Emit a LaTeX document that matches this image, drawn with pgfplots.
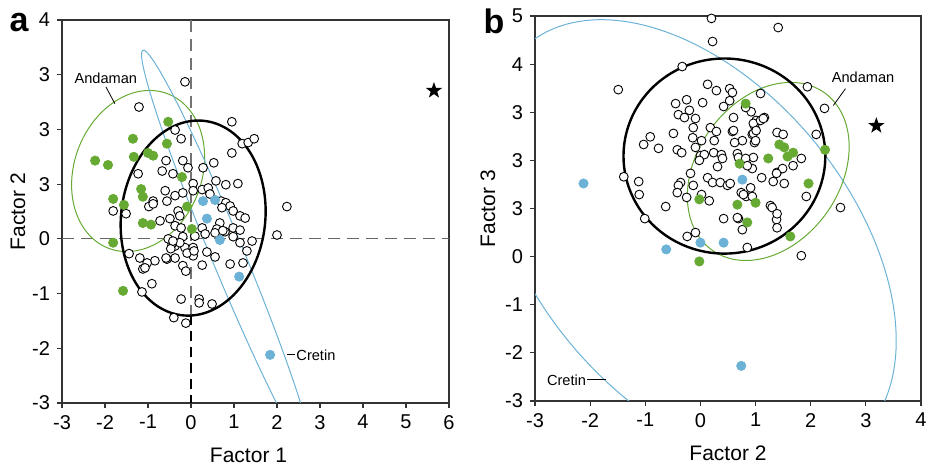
\documentclass[border=0pt]{standalone}
\usepackage{pgfplots}
\pgfplotsset{compat=1.18}
\usepackage{fontspec}
\setmainfont{Liberation Sans}
\definecolor{agreen}{RGB}{102,170,52}
\definecolor{ablue}{RGB}{108,178,214}
\pgfdeclareplotmark{fstar}{%
  \pgfpathmoveto{\pgfpointpolar{90}{\pgfplotmarksize}}%
  \pgfpathlineto{\pgfpointpolar{126}{0.4\pgfplotmarksize}}%
  \pgfpathlineto{\pgfpointpolar{162}{\pgfplotmarksize}}%
  \pgfpathlineto{\pgfpointpolar{198}{0.4\pgfplotmarksize}}%
  \pgfpathlineto{\pgfpointpolar{234}{\pgfplotmarksize}}%
  \pgfpathlineto{\pgfpointpolar{270}{0.4\pgfplotmarksize}}%
  \pgfpathlineto{\pgfpointpolar{306}{\pgfplotmarksize}}%
  \pgfpathlineto{\pgfpointpolar{342}{0.4\pgfplotmarksize}}%
  \pgfpathlineto{\pgfpointpolar{18}{\pgfplotmarksize}}%
  \pgfpathlineto{\pgfpointpolar{54}{0.4\pgfplotmarksize}}%
  \pgfpathclose\pgfusepathqfill}
\pgfplotsset{
  panel/.style={
    scale only axis, anchor=south west, clip=true,
    axis line style={black!80, line width=0.6pt},
    tick style={black!80, line width=0.6pt},
    tick align=outside, major tick length=2.5pt, tick pos=left,
    ticklabel style={font=\fontsize{10}{12}\selectfont},
    label style={font=\fontsize{10.5}{12}\selectfont},
    xlabel shift=2.5pt,
  },
  opn/.style={only marks, mark=*, mark size=2.2pt, mark options={fill=white, draw=black, line width=0.45pt}},
  grn/.style={only marks, mark=*, mark size=2.3pt, mark options={fill=agreen, draw=agreen}},
  blu/.style={only marks, mark=*, mark size=2.3pt, mark options={fill=ablue, draw=ablue}},
  ell/.style={domain=0:360, samples=181},
}
\begin{document}
\begin{tikzpicture}
\path[use as bounding box] (0pt,0pt) rectangle (463pt,233pt);
% ---------------- panel a ----------------
\begin{axis}[panel, at={(31pt,31.5pt)}, width=193.5pt, height=191.5pt,
  xmin=-3, xmax=6, ymin=-3, ymax=4,
  xtick={-3,-2,-1,0,1,2,3,4,5,6}, xticklabels={-3,-2,-1,0,1,2,3,4,5,6},
  ytick={-3,-2,-1,0,1,2,3,4}, yticklabels={-3,-2,-1,0,3,3,3,4},
  xlabel={Factor 1}, ylabel={Factor 2},
  xlabel style={xshift=-3.5pt}, ylabel shift=-3.5pt]
\addplot[black!60, line width=0.6pt, dash pattern=on 6pt off 3.5pt] coordinates {(-3,0) (6,0)};
\addplot[black!55, line width=0.6pt, dash pattern=on 6pt off 3.5pt] coordinates {(0,4) (0,-1.4)};
\addplot[black, line width=0.6pt, dash pattern=on 5pt off 3pt] coordinates {(0,-1.4) (0,-3)};
\addplot[agreen, line width=0.5pt, ell] ({-1.23 + 0.6860*cos(x) - 1.3861*sin(x)}, {1.24 + 1.4124*cos(x) + 0.4160*sin(x)});
\addplot[ablue, line width=0.5pt, ell] ({0.84 - 1.958*cos(x) - 0.3524*sin(x)}, {-0.27 + 3.716*cos(x) - 0.1147*sin(x)});
\addplot[black, line width=1.2pt, ell] ({0.05 + 0.2613*cos(x) - 1.6657*sin(x)}, {0.38 + 1.7762*cos(x) + 0.1515*sin(x)});
\addplot[opn] table[row sep=\\] {x y\\
-0.14 2.87\\ -1.21 2.41\\ -0.37 1.99\\ -0.23 1.83\\ 0.95 2.14\\ 1.19 1.74\\ 1.33 1.76\\ 1.47 1.83\\
0.95 1.57\\ -0.58 1.43\\ -0.19 1.43\\ -0.07 1.30\\ 0.28 1.30\\ 0.53 1.39\\ -1.23 1.19\\ -0.67 1.24\\
-0.42 1.19\\ 0.05 1.01\\ 0.81 0.99\\ 1.09 1.01\\ 0.58 1.06\\ -0.60 0.88\\ -0.37 0.79\\ -0.19 0.84\\
0.05 0.88\\ 0.26 0.90\\ 0.40 0.93\\ 0.44 0.82\\ 0.70 0.69\\ 0.81 0.66\\ 0.91 0.60\\ 0.98 0.51\\
1.14 0.42\\ 1.26 0.38\\ 0.72 0.57\\ -0.88 0.69\\ -0.56 0.69\\ -0.30 0.51\\ -0.49 0.37\\ -0.26 0.42\\
-0.72 0.33\\ -0.37 0.24\\ -0.23 0.20\\ 0.67 0.29\\ 0.60 0.18\\ 0.98 0.20\\ 0.26 0.20\\ 0.56 0.11\\
0.79 0.13\\ 1.14 0.16\\ 0.09 0.05\\ -0.19 0.04\\ 2.23 0.59\\ 2.00 0.07\\ 1.14 -0.07\\ 1.42 -0.04\\
-0.37 -0.13\\ -0.14 -0.16\\ 0.05 -0.16\\ -0.98 0.59\\ -0.88 0.64\\ -1.51 0.46\\ -1.81 0.51\\
1.30 -0.22\\ 1.21 -0.44\\ 0.91 -0.46\\ 0.56 -0.33\\ 0.37 -0.24\\ 0.26 -0.48\\ 0.05 -0.31\\ -0.09 -0.26\\
-0.19 -0.49\\ -0.12 -0.59\\ -0.37 -0.35\\ -0.56 -0.37\\ -0.84 -0.40\\ -1.02 -0.44\\ -1.12 -0.55\\ -1.19 -0.35\\
-1.44 -0.27\\ -0.91 -0.82\\ -1.14 -0.97\\ -0.23 -1.10\\ 0.19 -1.10\\ 0.19 -1.17\\ 0.49 -1.19\\ -0.40 -1.44\\
-0.12 -1.54\\ -0.44 -0.09\\ -0.47 -0.18\\ -0.53 0.00\\ -0.26 -0.07\\ 0.33 0.09\\ 0.74 0.15\\ 0.98 0.04\\
-0.42 -0.04\\ -0.58 -0.35\\ -1.07 -0.53\\ 0.07 -0.22\\
};
\addplot[grn] table[row sep=\\] {x y\\
-2.23 1.43\\ -1.93 1.35\\ -1.35 1.83\\ -1.33 1.50\\ -1.00 1.57\\ -0.88 1.52\\ -0.53 2.14\\ -0.56 1.74\\
-1.16 0.91\\ -1.12 0.77\\ -1.81 0.73\\ -1.56 0.62\\ -1.12 0.29\\ -0.93 0.26\\ -0.21 1.13\\ -0.09 0.59\\
0.02 0.18\\ -1.81 -0.07\\ -1.58 -0.95\\
};
\addplot[blu] table[row sep=\\] {x y\\
0.28 0.69\\ 0.56 0.71\\ 0.37 0.37\\ 0.67 -0.02\\ 1.12 -0.69\\ 1.84 -2.12\\
};
\addplot[only marks, mark=fstar, mark size=4.3pt, black] coordinates {(5.65,2.71)};
\draw[black, line width=0.4pt] (axis cs:-1.98,2.78) -- (axis cs:-1.77,2.47);
\node[font=\fontsize{7.3}{8}\selectfont] at (axis cs:-1.98,2.93) {Andaman};
\draw[black, line width=0.4pt] (axis cs:2.23,-2.12) -- (axis cs:2.42,-2.12);
\node[font=\fontsize{7.3}{8}\selectfont, anchor=west, inner sep=0.5pt] at (axis cs:2.42,-2.12) {Cretin};
\end{axis}
\node[font=\bfseries\fontsize{17}{17}\selectfont] at (9.5pt,221.5pt) {a};
% ---------------- panel b ----------------
\begin{axis}[panel, at={(267.5pt,32.5pt)}, width=193pt, height=192.5pt,
  xmin=-3, xmax=4, ymin=-3, ymax=5,
  xtick={-3,-2,-1,0,1,2,3,4}, xticklabels={-3,-2,-1,0,1,2,3,4},
  ytick={-3,-2,-1,0,1,2,3,4,5}, yticklabels={-3,-2,-1,0,3,3,3,4,5},
  xlabel={Factor 2}, ylabel={Factor 3}, ylabel shift=-2pt]
\addplot[ablue, line width=0.5pt, ell] ({-0.154 + 2.9752*cos(x) + 2.2078*sin(x)}, {0.304 - 4.1125*cos(x) + 2.1037*sin(x)});
\addplot[agreen, line width=0.5pt, ell] ({1.23 + 1.0197*cos(x) - 1.0547*sin(x)}, {1.77 + 1.6346*cos(x) + 0.8665*sin(x)});
\addplot[black, line width=1.2pt, ell] ({0.435 + 1.830*cos(x)}, {2.09 + 2.027*sin(x)});
\addplot[opn] table[row sep=\\] {x y\\
0.20 4.95\\ 0.22 4.47\\ 1.41 4.76\\ -0.33 3.95\\ -1.49 3.47\\ 0.13 3.58\\ 0.29 3.45\\ 0.53 3.49\\
0.58 3.41\\ 0.53 3.24\\ 0.42 3.12\\ 1.09 3.39\\ -0.45 3.18\\ -0.25 3.26\\ 0.04 3.20\\ -0.40 2.95\\
-0.20 3.04\\ -0.29 2.89\\ -0.09 2.87\\ -0.13 2.68\\ 0.92 3.01\\ 1.16 2.89\\ 1.01 2.83\\ 0.98 2.72\\
0.94 2.54\\ 0.98 2.37\\ 0.60 2.89\\ 0.18 2.68\\ 0.29 2.60\\ 0.58 2.60\\ -0.49 2.56\\ -0.91 2.49\\
-1.03 2.33\\ -0.76 2.25\\ -0.14 2.47\\ 0.02 2.41\\ 0.25 2.41\\ 0.76 2.41\\ -0.42 2.22\\ -0.34 2.16\\
-0.09 2.27\\ 0.96 2.56\\ 0.62 2.37\\ 0.00 2.10\\ 0.07 2.12\\ 0.24 2.16\\ 0.38 2.12\\ 0.40 2.04\\
0.67 2.14\\ 0.69 2.06\\ 0.96 2.06\\ -0.02 2.00\\ 0.31 1.87\\ -0.18 1.73\\ 0.13 1.64\\ 0.22 1.54\\
0.36 1.54\\ 0.49 1.48\\ -0.36 1.54\\ -0.40 1.48\\ -0.42 1.33\\ -0.13 1.48\\ -1.39 1.66\\ -1.12 1.56\\
-1.11 1.29\\ -1.01 0.79\\ -0.63 1.04\\ -0.25 1.23\\ 0.02 1.29\\ 0.16 1.16\\ 0.74 1.33\\ 0.83 1.25\\
0.94 1.25\\ 0.91 1.43\\ 0.94 1.83\\ 1.11 1.64\\ 1.32 1.56\\ 1.39 1.75\\ 1.27 1.06\\ 1.38 0.77\\
0.69 0.79\\ 0.42 0.79\\ 0.76 0.56\\ -0.24 0.42\\ -0.09 0.50\\ 0.85 0.19\\ 1.94 3.53\\ 2.25 3.08\\
2.10 2.54\\ 2.54 1.02\\ 1.83 0.02\\ 0.82 3.10\\ 0.96 2.77\\ 1.09 2.83\\ 1.14 2.87\\ 1.01 2.62\\
0.60 2.62\\ 1.39 2.58\\ 1.50 2.54\\ 1.00 2.41\\ 0.82 2.04\\ 0.85 1.89\\ 1.83 2.04\\ 1.68 1.89\\
1.49 1.83\\ 1.38 1.73\\ 1.52 1.52\\ 0.54 1.52\\ 0.78 1.29\\ 1.92 1.25\\ 1.30 1.02\\ 1.39 0.89\\
0.67 0.81\\ 1.39 0.60\\
};
\addplot[grn] table[row sep=\\] {x y\\
0.82 3.18\\ 1.43 2.33\\ 1.52 2.27\\ 1.68 2.16\\ 1.58 2.08\\ 1.23 2.04\\ 2.26 2.22\\ 0.71 1.93\\
1.96 1.52\\ -0.02 1.19\\ 0.67 1.08\\ 1.00 1.12\\ 0.85 0.71\\ 1.63 0.42\\ -0.02 -0.10\\
};
\addplot[blu] table[row sep=\\] {x y\\
-2.12 1.52\\ -0.62 0.15\\ 0.00 0.29\\ 0.42 0.29\\ 0.76 1.60\\ 0.74 -2.27\\
};
\addplot[only marks, mark=fstar, mark size=4.3pt, black] coordinates {(3.19,2.72)};
\draw[black, line width=0.4pt] (axis cs:2.63,3.49) -- (axis cs:2.41,3.14);
\node[font=\fontsize{7.3}{8}\selectfont] at (axis cs:2.95,3.72) {Andaman};
\draw[black, line width=0.4pt] (axis cs:-2.05,-2.56) -- (axis cs:-1.72,-2.56);
\node[font=\fontsize{7.3}{8}\selectfont, anchor=east, inner sep=0.5pt] at (axis cs:-2.05,-2.56) {Cretin};
\end{axis}
\node[font=\bfseries\fontsize{17}{17}\selectfont] at (247pt,222.5pt) {b};
\end{tikzpicture}
\end{document}
